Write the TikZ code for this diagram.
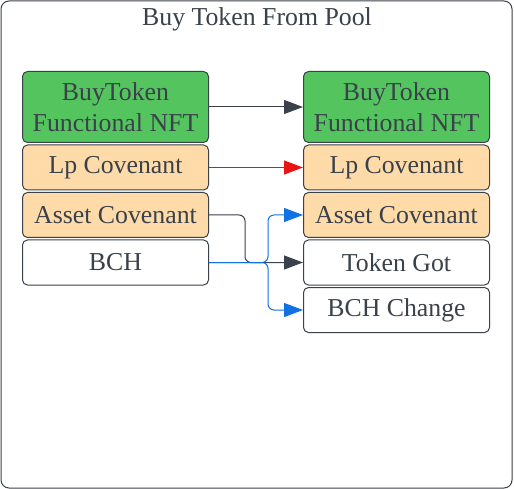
\documentclass[tikz,border=0pt]{standalone}
\usepackage{fontspec}
\setmainfont{Liberation Serif}
\usetikzlibrary{positioning,arrows.meta}
\definecolor{ink}{HTML}{3A414A}
\definecolor{nftgreen}{HTML}{54C45E}
\definecolor{covorange}{HTML}{FFDBA9}
\definecolor{flowred}{HTML}{E81313}
\definecolor{flowblue}{HTML}{1071E5}
\tikzset{
  cell/.style={draw=ink,line width=1pt,rounded corners=5pt,minimum width=186pt,
    minimum height=45pt,inner sep=0pt,text=ink,align=center,
    font=\fontsize{25.8}{31}\selectfont},
  nft/.style={cell,fill=nftgreen,minimum height=71pt},
  cov/.style={cell,fill=covorange},
  flow/.style={line width=1pt,rounded corners=6pt,-{Triangle[length=19pt,width=14pt]}}
}

\begin{document}
\begin{tikzpicture}[x=1pt,y=-1pt]
    \useasboundingbox (0,0) rectangle (514,489);
    % Frame and title
    \draw[ink,line width=1pt,rounded corners=8pt] (1,1) rectangle (512,488);
    \node[text=ink,font=\fontsize{25.8}{31}\selectfont] (title) at (257,19) {Buy Token From Pool};

    % Inputs on the left
    \node[nft] (lnft) at (115.5,107) {BuyToken\\Functional NFT};
    \node[cov,below=1.5pt of lnft] (llp) {Lp Covenant};
    \node[cov,below=1.5pt of llp] (lasset) {Asset Covenant};
    \node[cell,below=1.5pt of lasset] (lbch) {BCH};

    % Outputs on the right
    \node[nft] (rnft) at (396.5,107) {BuyToken\\Functional NFT};
    \node[cov,below=1.5pt of rnft] (rlp) {Lp Covenant};
    \node[cov,below=1.5pt of rlp] (rasset) {Asset Covenant};
    \node[cell,below=1.5pt of rasset] (rtok) {Token Got};
    \node[cell,below=1.5pt of rtok] (rchg) {BCH Change};

    % Flows
    \draw[flow,ink] (lnft.east) -- (rnft.west);
    \draw[flow,flowred] (llp.east) -- (rlp.west);
    \draw[flow,ink] (lasset.east) -- ++(36,0) |- (rtok.west);
    \coordinate (split) at ([xshift=59pt]lbch.east);
    \draw[flow,flowblue] (lbch.east) -- (split) |- (rasset.west);
    \draw[flow,flowblue] (lbch.east) -- (split) |- (rchg.west);
\end{tikzpicture}
\end{document}
